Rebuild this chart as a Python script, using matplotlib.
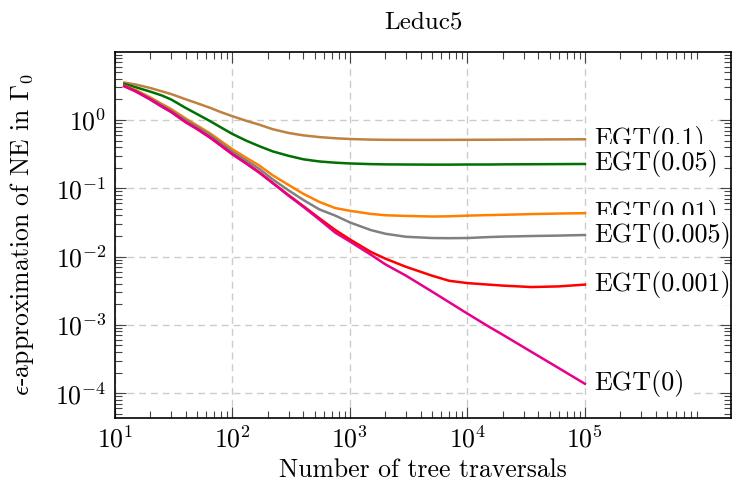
import matplotlib
matplotlib.use('Agg')
import matplotlib.pyplot as plt
from matplotlib.ticker import FixedLocator, LogLocator, NullFormatter

plt.rcParams['font.family'] = 'serif'
plt.rcParams['font.serif'] = ['cmr10']
plt.rcParams['mathtext.fontset'] = 'cm'
plt.rcParams['axes.unicode_minus'] = False

# %% data
traversals = [12, 15, 20, 25, 30, 40, 50, 65, 80, 100, 130, 170, 220, 300, 400,
              550, 750, 1000, 1500, 2000, 3000, 5000, 7000, 10000, 15000,
              20000, 35000, 60000, 100000]
egt_01 = [3.53, 3.31, 2.94, 2.63, 2.40, 2.01, 1.76, 1.50, 1.30, 1.135, 0.977,
          0.851, 0.733, 0.646, 0.596, 0.562, 0.540, 0.527, 0.516, 0.513, 0.511,
          0.511, 0.512, 0.513, 0.514, 0.515, 0.518, 0.520, 0.522]
egt_005 = [3.37, 3.02, 2.60, 2.29, 2.00, 1.50, 1.22, 0.955, 0.776, 0.624,
           0.501, 0.412, 0.347, 0.299, 0.266, 0.247, 0.237, 0.231, 0.226,
           0.224, 0.223, 0.222, 0.222, 0.223, 0.223, 0.224, 0.225, 0.226, 0.227]
egt_001 = [3.18, 2.75, 2.14, 1.72, 1.45, 1.05, 0.832, 0.631, 0.490, 0.372,
           0.282, 0.214, 0.155, 0.112, 0.0832, 0.0631, 0.0513, 0.0468, 0.0422,
           0.0403, 0.0394, 0.0386, 0.0389, 0.0398, 0.0405, 0.0409, 0.0419,
           0.0427, 0.0432]
egt_0005 = [3.16, 2.69, 2.07, 1.66, 1.38, 1.0, 0.794, 0.596, 0.457, 0.343,
            0.257, 0.191, 0.135, 0.0933, 0.0676, 0.0490, 0.0398, 0.0316,
            0.0245, 0.0216, 0.0195, 0.0187, 0.0186, 0.0187, 0.0193, 0.0196,
            0.0200, 0.0203, 0.0207]
egt_0001 = [3.13, 2.63, 2.0, 1.58, 1.32, 0.933, 0.741, 0.550, 0.422, 0.316,
            0.234, 0.170, 0.120, 0.0794, 0.0550, 0.0363, 0.0245, 0.0178,
            0.01175, 0.00933, 0.00708, 0.00525, 0.00442, 0.00409, 0.00389,
            0.00376, 0.00358, 0.00366, 0.00389]
egt_0 = [3.12, 2.62, 1.99, 1.57, 1.31, 0.925, 0.735, 0.545, 0.418, 0.313,
         0.232, 0.168, 0.119, 0.078, 0.0537, 0.0347, 0.0224, 0.0166, 0.0107,
         0.0077, 0.00525, 0.00307, 0.00214, 0.00146, 9.55e-4, 7.16e-4,
         4.03e-4, 2.32e-4, 1.37e-4]

series = [egt_01, egt_005, egt_001, egt_0005, egt_0001, egt_0]
names = ['EGT(0.1)', 'EGT(0.05)', 'EGT(0.01)', 'EGT(0.005)', 'EGT(0.001)', 'EGT(0)']
colors = ['#bf8040', '#007000', '#ff8000', '#808080', '#ff0000', '#e6008a']
xticks = [1e1, 1e2, 1e3, 1e4, 1e5]

# %% plot
fig = plt.figure(figsize=(7.32, 4.84), dpi=100)
ax = fig.add_axes([115/732, 1-418/484, 616/732, 366/484])
ax.set_xscale('log')
ax.set_yscale('log')

for i, (ys, name, c) in enumerate(zip(series, names, colors)):
    ax.plot(traversals, ys, color=c, lw=1.8, zorder=3)
    ax.annotate(name, (traversals[-1], ys[-1]), xytext=(6.5, 0),
                textcoords='offset points', ha='left', va='center',
                fontsize=18.8, zorder=10+i, annotation_clip=False,
                bbox=dict(boxstyle='square,pad=0.25', fc='white', ec='none'))

ax.set_xlim(10, 1.75e6)
ax.set_ylim(4.33e-5, 9.9)
ax.xaxis.set_major_locator(FixedLocator(xticks))
ax.xaxis.set_minor_locator(LogLocator(base=10, subs=range(2, 10), numticks=20))
ax.xaxis.set_minor_formatter(NullFormatter())
ax.yaxis.set_minor_locator(LogLocator(base=10, subs=range(2, 10), numticks=20))
ax.yaxis.set_minor_formatter(NullFormatter())

ax.grid(True, which='major', color='#cccccc', ls=(0, (5, 3.5)), lw=1.0, zorder=0)
ax.tick_params(which='both', direction='in', top=True, right=True,
               labelsize=18.5, width=0.8, color='#444444')
ax.tick_params(which='major', length=7.6, pad=6)
ax.tick_params(which='minor', length=5)
for s in ax.spines.values():
    s.set_linewidth(1.2)
    s.set_zorder(30)

ax.set_title('Leduc5', fontsize=18, pad=17)
ax.set_xlabel('Number of tree traversals', fontsize=18.5, labelpad=4)
ax.set_ylabel(r'$\epsilon$-approximation of NE in $\Gamma_0$', fontsize=18.5)
ax.yaxis.set_label_coords(-0.128, 0.5)

fig.savefig('out.png', dpi=100)
